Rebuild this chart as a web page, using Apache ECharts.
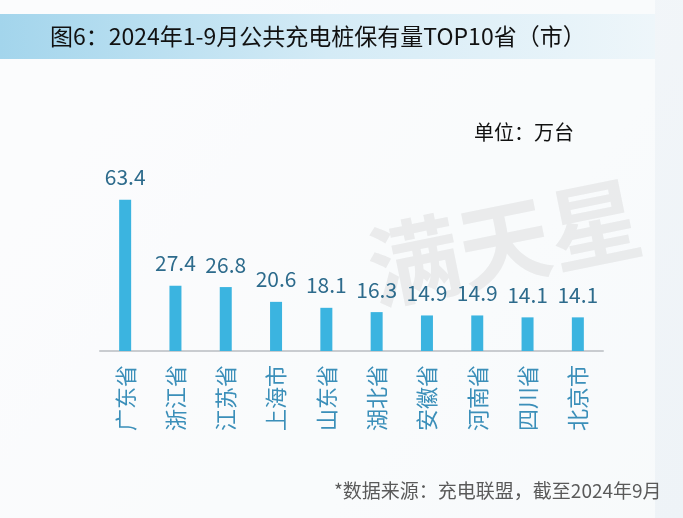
<!DOCTYPE html>
<html><head><meta charset="utf-8">
<script src="https://cdn.jsdelivr.net/npm/echarts@6/dist/echarts.min.js"></script>
<style>html,body{margin:0;padding:0;background:#f4f7fa;}#c{width:683px;height:518px;}</style>
</head><body><div id="c"></div>
<script>
const categories = ['广东省','浙江省','江苏省','上海市','山东省','湖北省','安徽省','河南省','四川省','北京市'];
const values = [63.4, 27.4, 26.8, 20.6, 18.1, 16.3, 14.9, 14.9, 14.1, 14.1];
const titleText = '图6：2024年1-9月公共充电桩保有量TOP10省（市）';
const unitText = '单位：万台';
const sourceText = '*数据来源：充电联盟，截至2024年9月';

const chart = echarts.init(document.getElementById('c'));
const F = '"Noto Sans CJK SC","Noto Sans",sans-serif';
chart.setOption({
  backgroundColor: {type:'linear',x:0,y:0,x2:1,y2:1,colorStops:[{offset:0,color:'#f7f9fb'},{offset:1,color:'#eef3f7'}]},
  animation:false,
  graphic:[
    {type:'rect',left:0,top:0,shape:{width:655,height:518},style:{fill:'rgba(255,255,255,0.55)'},z:-10},
    {type:'rect',left:0,top:14,shape:{width:655,height:45},
     style:{fill:{type:'linear',x:0,y:0,x2:1,y2:0,colorStops:[{offset:0,color:'#a3d5ec'},{offset:0.5,color:'#d4ebf6'},{offset:1,color:'#eef6fa'}]}},z:-5},
    {type:'text',left:50,top:25,style:{text:titleText,font:'23px '+F,fill:'#111'},z:10},
    {type:'text',left:474,top:122,style:{text:unitText,font:'20px '+F,fill:'#111'},z:10},
    {type:'text',left:334,top:481,style:{text:sourceText,font:'19px '+F,fill:'#5a5a5a'},z:10},
    {type:'text',x:360,y:225,rotation:0.2,style:{text:'满天星',font:'bold 92px '+F,fill:'rgba(175,175,175,0.2)'},z:-1}
  ],
  grid:{left:100,right:80,top:184,bottom:167,containLabel:false},
  xAxis:{type:'category',data:categories,
    axisLine:{lineStyle:{color:'#c9ccd0',width:2}},axisTick:{show:false},
    axisLabel:{rotate:90,fontSize:22,color:'#3b8fb9',fontFamily:F,margin:14}},
  yAxis:{type:'value',min:0,max:70,show:false,splitLine:{show:false}},
  series:[{type:'bar',data:values,barWidth:12,itemStyle:{color:'#3bb4e0'},
    label:{show:true,position:'top',distance:12,fontSize:21,color:'#2d6b8c',fontFamily:F}}]
});
</script></body></html>
